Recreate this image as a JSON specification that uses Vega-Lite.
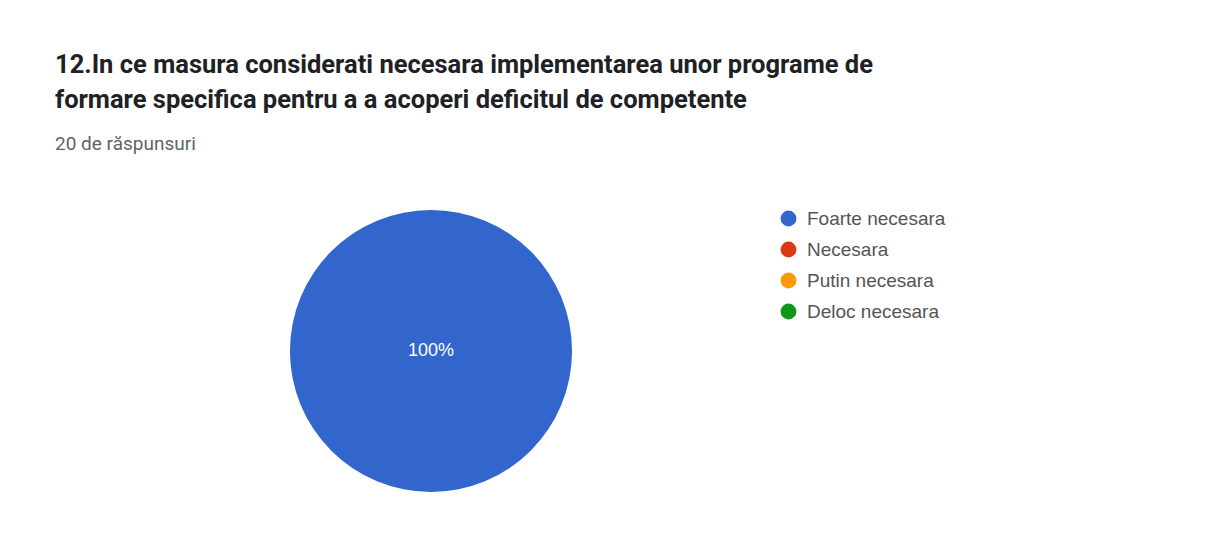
{
  "$schema": "https://vega.github.io/schema/vega-lite/v6.json",
  "autosize": "none",
  "width": 752,
  "height": 282,
  "padding": {"left": 55, "top": 210, "right": 414, "bottom": 54},
  "background": "#ffffff",
  "title": {
    "text": ["12.In ce masura considerati necesara implementarea unor programe de", "formare specifica pentru a a acoperi deficitul de competente"],
    "subtitle": "20 de răspunsuri",
    "anchor": "start",
    "frame": "group",
    "offset": 55,
    "font": "Roboto",
    "fontSize": 25.5,
    "fontWeight": "bold",
    "color": "#202124",
    "lineHeight": 35,
    "subtitleFont": "Roboto",
    "subtitleFontSize": 19,
    "subtitleColor": "#5f6368",
    "subtitlePadding": 22
  },
  "data": {
    "values": [
      {"raspuns": "Foarte necesara", "ordine": 1, "numar": 20, "procent": 1.0},
      {"raspuns": "Necesara", "ordine": 2, "numar": 0, "procent": 0},
      {"raspuns": "Putin necesara", "ordine": 3, "numar": 0, "procent": 0},
      {"raspuns": "Deloc necesara", "ordine": 4, "numar": 0, "procent": 0}
    ]
  },
  "config": {"view": {"stroke": null}},
  "layer": [
    {
      "mark": {"type": "arc", "stroke": "#ffffff", "strokeWidth": 0},
      "encoding": {
        "theta": {"field": "numar", "type": "quantitative", "stack": true},
        "order": {"field": "ordine"},
        "color": {
          "field": "raspuns",
          "type": "nominal",
          "sort": ["Foarte necesara", "Necesara", "Putin necesara", "Deloc necesara"],
          "scale": {
            "domain": ["Foarte necesara", "Necesara", "Putin necesara", "Deloc necesara"],
            "range": ["#3366cc", "#dc3912", "#ff9900", "#109618"]
          },
          "legend": {
            "title": null,
            "orient": "none",
            "legendX": 724,
            "legendY": -1,
            "symbolType": "circle",
            "symbolSize": 250,
            "symbolStrokeWidth": 0,
            "labelFont": "Liberation Sans",
            "labelFontSize": 19,
            "labelColor": "#555555",
            "labelOffset": 9,
            "rowPadding": 11
          }
        }
      }
    },
    {
      "transform": [{"filter": "datum.procent > 0"}],
      "mark": {"type": "text", "color": "#ffffff", "font": "Liberation Sans", "fontSize": 18, "baseline": "middle", "align": "center"},
      "encoding": {
        "text": {"field": "procent", "type": "quantitative", "format": ".0%"}
      }
    }
  ]
}
